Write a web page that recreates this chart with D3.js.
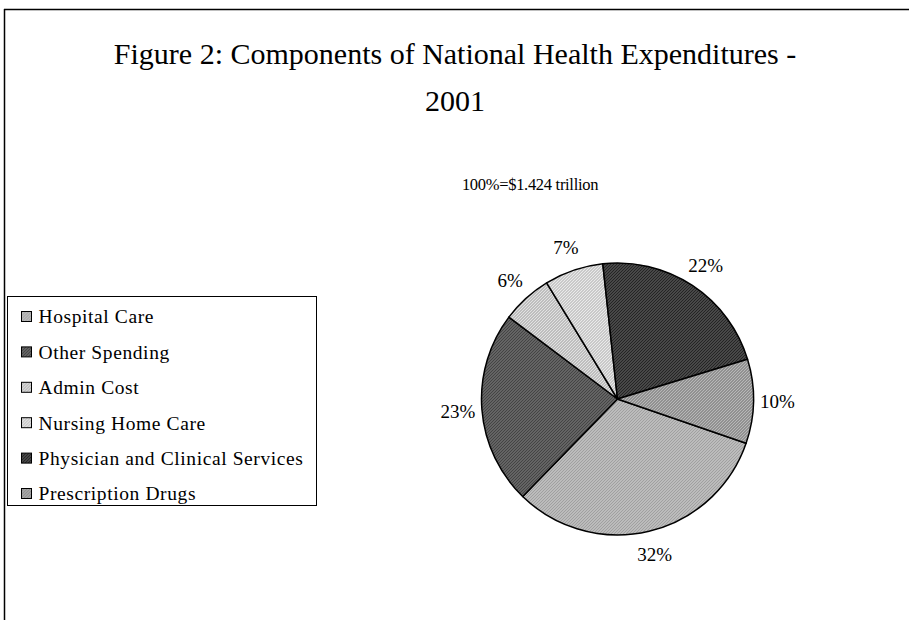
<!DOCTYPE html>
<html>
<head>
<meta charset="utf-8">
<script src="https://cdn.jsdelivr.net/npm/d3@7"></script>
<style>
  html, body { margin: 0; padding: 0; background: #fff; }
  svg { display: block; }
  text { font-family: "Liberation Serif", "Times New Roman", serif; fill: #000; }
</style>
</head>
<body>
<svg id="chart" width="909" height="620"></svg>
<script>
// Spending components, in legend order (share of total, %)
const categories = [
  "Hospital Care",
  "Other Spending",
  "Admin Cost",
  "Nursing Home Care",
  "Physician and Clinical Services",
  "Prescription Drugs"
];
const shares = [32, 23, 6, 7, 22, 10];
const titleLines = ["Figure 2: Components of National Health Expenditures -", "2001"];
const subtitle = "100%=$1.424 trillion";

// Dithered grey fills: [base, speck] per category
const fills = [
  ["#a0a0a0", "#d8d8d8"],
  ["#444444", "#848484"],
  ["#e2e2e2", "#9a9a9a"],
  ["#eaeaea", "#a8a8a8"],
  ["#242424", "#6c6c6c"],
  ["#b8b8b8", "#6a6a6a"]
];

const W = 909, H = 620;
const svg = d3.select("#chart");
const defs = svg.append("defs");

fills.forEach((f, i) => {
  const p = defs.append("pattern")
    .attr("id", "pat" + i)
    .attr("patternUnits", "userSpaceOnUse")
    .attr("width", 3).attr("height", 3);
  p.append("rect").attr("width", 3).attr("height", 3).attr("fill", f[0]);
  p.append("rect").attr("x", 0).attr("y", 0).attr("width", 1).attr("height", 1).attr("fill", f[1]);
  p.append("rect").attr("x", 2).attr("y", 1).attr("width", 1).attr("height", 1).attr("fill", f[1]);
  p.append("rect").attr("x", 1).attr("y", 2).attr("width", 1).attr("height", 1).attr("fill", f[1]);
});

// Chart frame (top and left edges)
svg.append("line").attr("x1", 4).attr("x2", W).attr("y1", 9.5).attr("y2", 9.5)
  .attr("stroke", "#000").attr("stroke-width", 1.5);
svg.append("line").attr("x1", 4.5).attr("x2", 4.5).attr("y1", 9).attr("y2", H)
  .attr("stroke", "#000").attr("stroke-width", 1.5);

// Title
svg.append("g").selectAll("text").data(titleLines).join("text")
  .attr("x", 455)
  .attr("y", (d, i) => 64 + i * 47)
  .attr("text-anchor", "middle")
  .style("font-size", "30px")
  .text(d => d);

svg.append("text")
  .attr("x", 530).attr("y", 190)
  .attr("text-anchor", "middle")
  .style("font-size", "16.5px")
  .style("letter-spacing", "-0.3px")
  .text(subtitle);

// Pie
const cx = 617.5, cy = 399, R = 136;
const startDeg = 109;
const pie = d3.pie().sort(null).value(d => d)
  .startAngle(startDeg * Math.PI / 180)
  .endAngle(startDeg * Math.PI / 180 + 2 * Math.PI);
const arcs = pie(shares);
const arc = d3.arc().innerRadius(0).outerRadius(R);

const gPie = svg.append("g").attr("transform", `translate(${cx},${cy})`);
gPie.selectAll("path").data(arcs).join("path")
  .attr("d", arc)
  .attr("fill", (d, i) => `url(#pat${i})`)
  .attr("stroke", "#000")
  .attr("stroke-width", 1.5)
  .attr("stroke-linejoin", "round");

// Percentage labels outside each slice
const labelR = 160;
gPie.selectAll("text").data(arcs).join("text")
  .attr("x", d => labelR * Math.sin((d.startAngle + d.endAngle) / 2))
  .attr("y", d => -labelR * Math.cos((d.startAngle + d.endAngle) / 2))
  .attr("dy", "0.35em")
  .attr("text-anchor", "middle")
  .style("font-size", "19px")
  .text(d => d.data + "%");

// Legend
const lgX = 7.5, lgY = 296.5, lgW = 309, lgH = 209, rowH = 35.4;
const lg = svg.append("g");
lg.append("rect")
  .attr("x", lgX).attr("y", lgY).attr("width", lgW).attr("height", lgH)
  .attr("fill", "#fff").attr("stroke", "#000").attr("stroke-width", 1);
const rows = lg.selectAll("g.row").data(categories).join("g")
  .attr("class", "row")
  .attr("transform", (d, i) => `translate(${lgX + 14},${lgY + 20 + i * rowH})`);
rows.append("rect")
  .attr("x", 0).attr("y", -5).attr("width", 10).attr("height", 10)
  .attr("fill", (d, i) => `url(#pat${i})`)
  .attr("stroke", "#000").attr("stroke-width", 1);
rows.append("text")
  .attr("x", 17).attr("y", 0).attr("dy", "0.35em")
  .style("font-size", "19.5px")
  .style("letter-spacing", "0.6px")
  .text(d => d);
</script>
</body>
</html>
